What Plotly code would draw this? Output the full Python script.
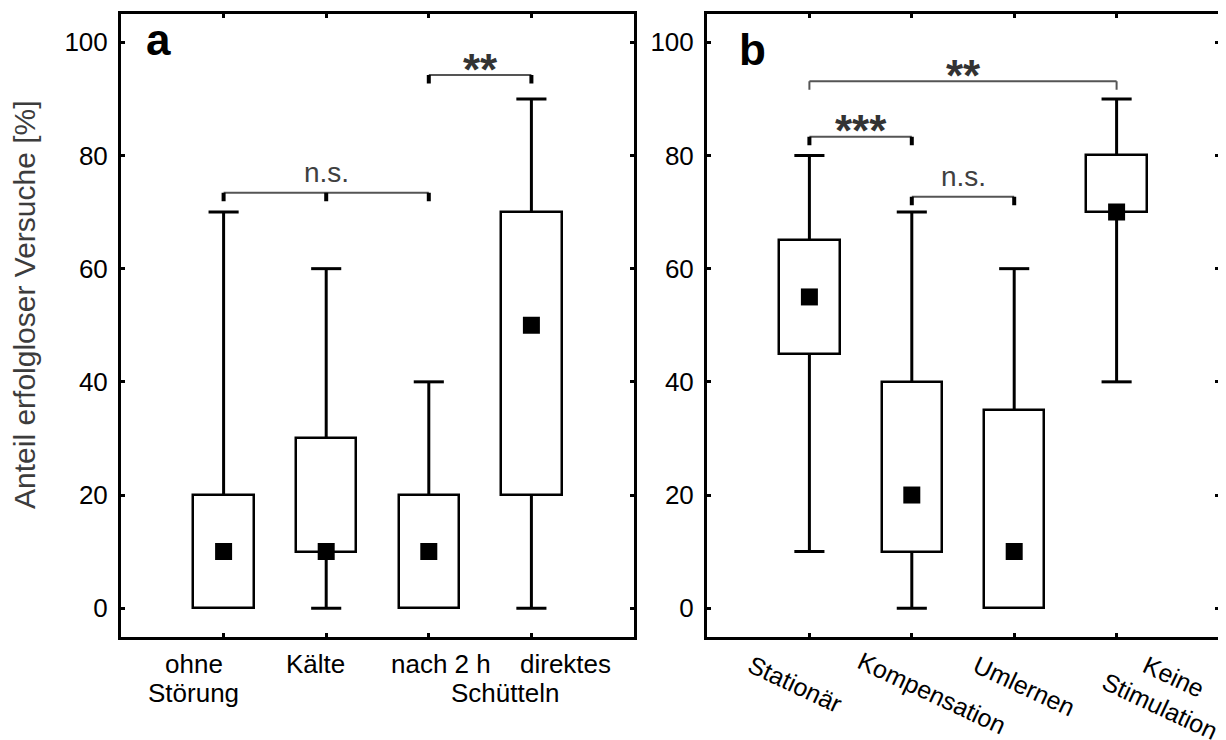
import plotly.graph_objects as go

# ---------------- data ----------------
# Panel a
cats_a = ["ohne Störung", "Kälte", "nach 2 h Schütteln", "direktes Schütteln"]
q1_a = [0, 10, 0, 20]
med_a = [10, 10, 10, 50]
q3_a = [20, 30, 20, 70]
lo_a = [0, 0, 0, 0]
hi_a = [70, 60, 40, 90]

# Panel b
cats_b = ["Stationär", "Kompensation", "Umlernen", "Keine Stimulation"]
q1_b = [45, 10, 0, 70]
med_b = [55, 20, 10, 70]
q3_b = [65, 40, 35, 80]
lo_b = [10, 0, 0, 40]
hi_b = [80, 70, 60, 90]

y_ticks = [0, 20, 40, 60, 80, 100]
y_tick_labels = ["0", "20", "40", "60", "80", "100"]

# x label lines (panel a uses a shared "Schütteln")
xlab_a = ["ohne", "Störung", "Kälte", "nach 2 h", "direktes", "Schütteln"]
xlab_b = ["Stationär", "Kompensation", "Umlernen", "Keine<br>Stimulation"]

# significance brackets: groups spanned, level, label
sig_a = [
    {"groups": [0, 1, 2], "level": 73.4, "label": "n.s."},
    {"groups": [2, 3], "level": 94.2, "label": "**"},
]
sig_b = [
    {"groups": [0, 1], "level": 83.3, "label": "***"},
    {"groups": [1, 2], "level": 72.7, "label": "n.s."},
    {"groups": [0, 3], "level": 93.1, "label": "**"},
]

y_title = "Anteil erfolgloser Versuche [%]"

# ---------------- styles ----------------
ARIAL = "Liberation Sans, Arial, sans-serif"
W, H = 1226, 740
OFF = 8  # page body margin compensation (px)


def px_x(p):
    return (p - OFF) / W


def px_y(p):
    return 1 - (p - OFF) / H


fig = go.Figure()


def add_panel(xa, ya, q1, med, q3, lo, hi):
    pos = list(range(len(q1)))
    fig.add_trace(go.Bar(
        x=pos, base=q1, y=[b - a for a, b in zip(q1, q3)], width=0.59,
        marker=dict(color="white", line=dict(color="black", width=2.5)),
        xaxis=xa, yaxis=ya, showlegend=False, hoverinfo="skip"))
    wx, wy, cx, cy = [], [], [], []
    for i in pos:
        if hi[i] > q3[i]:
            wx += [i, i, None]
            wy += [q3[i], hi[i], None]
            cx.append(i)
            cy.append(hi[i])
        if lo[i] < q1[i]:
            wx += [i, i, None]
            wy += [q1[i], lo[i], None]
            cx.append(i)
            cy.append(lo[i])
    fig.add_trace(go.Scatter(x=wx, y=wy, mode="lines",
                             line=dict(color="black", width=3),
                             xaxis=xa, yaxis=ya, showlegend=False, hoverinfo="skip"))
    fig.add_trace(go.Scatter(x=cx, y=cy, mode="markers",
                             marker=dict(symbol="line-ew", size=21.5,
                                         line=dict(color="black", width=3)),
                             xaxis=xa, yaxis=ya, showlegend=False, hoverinfo="skip"))
    fig.add_trace(go.Scatter(x=pos, y=med, mode="markers",
                             marker=dict(symbol="square", size=17, color="black",
                                         line=dict(width=0)),
                             xaxis=xa, yaxis=ya, showlegend=False, hoverinfo="skip"))


def add_brackets(xa, ya, sigs, thick_flags):
    for s, thick in zip(sigs, thick_flags):
        g = s["groups"]
        lv = s["level"]
        fig.add_trace(go.Scatter(x=[g[0], g[-1]], y=[lv, lv], mode="lines",
                                 line=dict(color="#555555", width=2),
                                 xaxis=xa, yaxis=ya, showlegend=False, hoverinfo="skip"))
        tx, ty = [], []
        for gi in g:
            tx += [gi, gi, None]
            ty += [lv, lv - 1.5, None]
        fig.add_trace(go.Scatter(x=tx, y=ty, mode="lines",
                                 line=dict(color="black" if thick else "#555555",
                                           width=4 if thick else 2),
                                 xaxis=xa, yaxis=ya, showlegend=False, hoverinfo="skip"))
        is_star = "*" in s["label"]
        fig.add_annotation(
            x=(g[0] + g[-1]) / 2, y=lv, xref=xa, yref=ya, text=s["label"],
            showarrow=False, xanchor="center", yanchor="middle",
            yshift=6 if is_star else 20,
            font=dict(family=ARIAL, size=44 if is_star else 28,
                      color="#333333" if is_star else "#404040",
                      weight="bold" if is_star else "normal"))


add_panel("x", "y", q1_a, med_a, q3_a, lo_a, hi_a)
add_panel("x2", "y2", q1_b, med_b, q3_b, lo_b, hi_b)
add_brackets("x", "y", sig_a, [True, True])
add_brackets("x2", "y2", sig_b, [True, True, False])

# ---------------- axes ----------------
xcommon = dict(range=[-1, 4], showgrid=False, zeroline=False, showline=True,
               linecolor="black", linewidth=3, mirror="ticks", ticks="inside",
               ticklen=4, tickwidth=2.5, tickcolor="black",
               tickvals=[0, 1, 2, 3], showticklabels=False, fixedrange=True)
ycommon = dict(range=[-5, 105], showgrid=False, zeroline=False, showline=True,
               linecolor="black", linewidth=3, mirror="ticks", ticks="inside",
               ticklen=4, tickwidth=2.5, tickcolor="black",
               tickvals=y_ticks, ticktext=y_tick_labels,
               tickfont=dict(family=ARIAL, size=26, color="black"),
               ticklabelstandoff=5, fixedrange=True)

ydom = [px_y(636.5), px_y(14)]
fig.update_layout(
    width=W, height=H, autosize=False,
    margin=dict(l=0, r=0, t=0, b=0),
    paper_bgcolor="white", plot_bgcolor="white",
    showlegend=False, bargap=0,
    xaxis=dict(xcommon, domain=[px_x(121), px_x(634)], anchor="y"),
    yaxis=dict(ycommon, domain=ydom, anchor="x"),
    xaxis2=dict(xcommon, domain=[px_x(707), px_x(1219)], anchor="y2"),
    yaxis2=dict(ycommon, domain=ydom, anchor="x2"),
)

# ---------------- text ----------------
# panel letters
fig.add_annotation(x=px_x(144), y=px_y(39.6), xref="paper", yref="paper", text="<b>a</b>",
                   showarrow=False, xanchor="left", yanchor="middle",
                   font=dict(family=ARIAL, size=44, color="black"))
fig.add_annotation(x=px_x(737), y=px_y(49.6), xref="paper", yref="paper", text="<b>b</b>",
                   showarrow=False, xanchor="left", yanchor="middle",
                   font=dict(family=ARIAL, size=44, color="black"))

# y title
fig.add_annotation(x=px_x(24), y=px_y(305), xref="paper", yref="paper", text=y_title,
                   showarrow=False, xanchor="center", yanchor="middle", textangle=-90,
                   font=dict(family=ARIAL, size=30, color="#3c3c3c"))

# panel a x labels
xa_pos = [-0.29, -0.29, 0.9, 2.12, 3.33, 2.74]
xa_row = [-27, -56, -27, -27, -27, -56]
for t, xp, ys in zip(xlab_a, xa_pos, xa_row):
    fig.add_annotation(x=xp, y=0, xref="x", yref="y domain", text=t, showarrow=False,
                       xanchor="center", yanchor="middle", yshift=ys,
                       font=dict(family=ARIAL, size=26, color="black"))

# panel b x labels (rotated)
xb_pos = [-0.14, 1.2, 2.1, 3.49]
xb_row = [-47.5, -56.5, -49.5, -55]
for t, xp, ys in zip(xlab_b, xb_pos, xb_row):
    fig.add_annotation(x=xp, y=0, xref="x2", yref="y2 domain", text=t, showarrow=False,
                       xanchor="center", yanchor="middle", yshift=ys, textangle=25,
                       align="center",
                       font=dict(family=ARIAL, size=25, color="black"))

fig.write_html("out.html")
